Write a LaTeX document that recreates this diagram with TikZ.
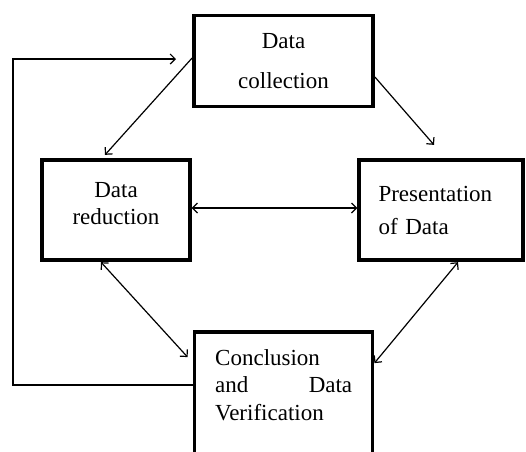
\documentclass[tikz,border=0pt]{standalone}
\usepackage{fontspec}
\setmainfont{Liberation Serif}
\usepackage{tikz}
\usetikzlibrary{positioning}
\usetikzlibrary{arrows.meta}

\begin{document}
\begin{tikzpicture}[x=1pt,y=-1pt,
        box/.style={draw=black, line width=3.8pt, fill=white, inner sep=0pt},
        txt/.style={inner sep=0pt},
        arr/.style={line width=1.2pt, -{Straight Barb[length=5pt,width=10pt]}},
        darr/.style={line width=1.2pt,
            {Straight Barb[length=5pt,width=10pt]}-{Straight Barb[length=5pt,width=10pt]}}]
        \useasboundingbox (0,0) rectangle (526,451);

        \node[box, minimum width=179, minimum height=91, align=center,
            font=\fontsize{23}{40}\selectfont] (coll) at (283.5,61)
        {Data\\collection};
        \node[box, minimum width=147.5, minimum height=100.5, align=center,
            text depth=13pt, font=\fontsize{23}{27}\selectfont] (red) at (116,210)
        {Data\\reduction};
        \node[box, minimum width=163.5, minimum height=100.5, text width=125,
            align=left, font=\fontsize{23}{33}\selectfont] (pres) at (441,210)
        {Presentation\\of Data};
        \node[box, minimum width=178, minimum height=130] (concl) at (283.5,397) {};
        \node[txt, text width=137, align=left, anchor=north west,
            font=\fontsize{23}{27.5}\selectfont] (concltxt) at (215,349)
        {Conclusion\\and \hfill Data\\Verification};

        \coordinate (fbcorner) at (13,59);
        \coordinate (fbend) at (176,59);

        \draw[arr] ([yshift=3pt]coll.west) -- ([xshift=-11pt,yshift=3pt]red.north);
        \draw[arr] ([yshift=-16pt]coll.east) -- ([xshift=-7pt,yshift=13pt]pres.north);
        \draw[darr] ([yshift=2pt]red.east) -- ([yshift=2pt]pres.west);
        \draw[darr] ([xshift=-15pt]red.south) -- ([xshift=-5pt,yshift=-27pt]concl.north west);
        \draw[darr] ([xshift=17pt]pres.south) -- ([yshift=-33pt]concl.north east);
        \draw[arr] ([yshift=12pt]concl.west) -| (fbcorner) -- (fbend);
\end{tikzpicture}
\end{document}
